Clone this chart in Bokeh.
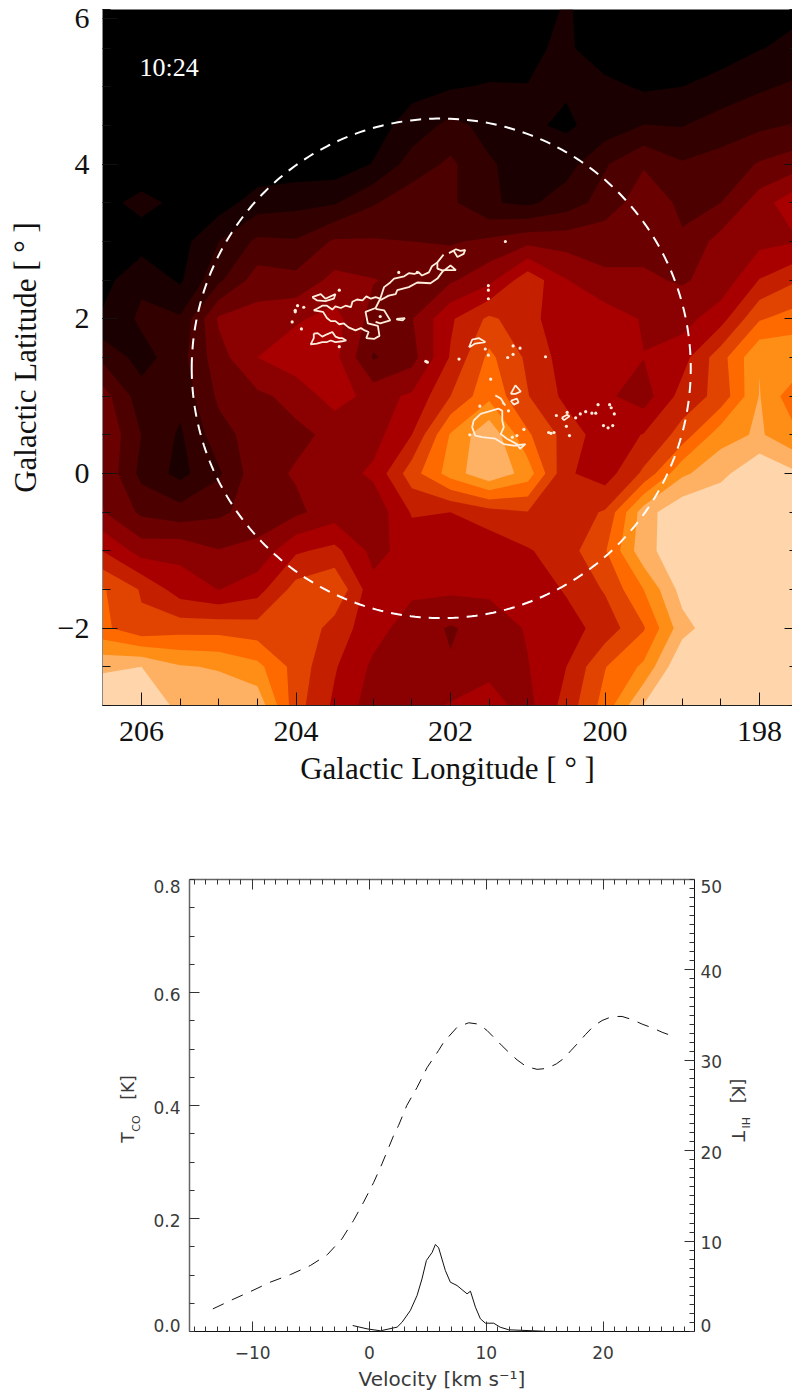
import numpy as np
from bokeh.plotting import figure
from bokeh.layouts import column
from bokeh.models import FixedTicker, Label, LinearAxis, Range1d
from bokeh.embed import file_html
from bokeh.resources import INLINE

# ---------- upper panel: HI brightness, one list per longitude, latitude 6 -> -3 ----------
lat = [6 - 0.5 * i for i in range(19)]
lon = [206.5 - 0.5 * i for i in range(19)]
l206_5 = [.2,.2,.2,.2,.2,.7,.3,.65,1.15,2.75,4.45,4.9,4.85,5.05,6.97,9.1,9.25,11.8,13]
l206_0 = [.3,.3,.3,.3,.3,1.3,.5,1.8,2.2,1.6,2.42,2.98,2.7,3.8,5.57,7.9,8.2,12.0,12.43]
l205_5 = [.2,.2,.2,.2,.2,.75,.6,.85,2.13,2.6,2.3,1.85,1.7,3.4,5.7,6.5,8.56,11.1,11.85]
l205_0 = [.2,.2,.2,.2,.2,.5,2.0,2.8,5.15,4.6,4.2,3.6,2.85,3.8,5.05,5.98,8.6,10.9,11.8]
l204_5 = [.2,.2,.2,.2,.25,1.5,3.2,4.5,5.4,6.0,4.8,4.5,4.65,4.45,5.28,6.6,8.4,10.3,11.7]
l204_0 = [.2,.2,.2,.2,.4,1.7,3.1,4.3,5.85,6.7,5.3,4.8,5.09,4.8,6.85,8.4,8.9,8.6,8.4]
l203_5 = [.2,.2,.2,.2,.4,1.9,4.15,5.3,6.4,6.3,6.5,5.2,5.5,5.5,7.3,8.9,7.55,7.1,6.8]
l203_0 = [.2,.2,.2,.6,1.05,2.9,4.1,5.05,4.6,3.9,5.6,5.6,6.2,5.3,5.7,6.3,6.4,5.8,5.5]
l202_5 = [.2,.2,.7,1.4,2.45,3.6,4.0,4.7,4.95,4.6,6.17,7.0,8.55,7.1,6.4,6.2,5.5,5.3,5.6]
l202_0 = [.3,.3,.9,2.3,3.2,3.2,3.9,4.85,6.85,7.1,8.0,10.1,10.45,7.0,6.5,6.2,4.9,5.08,6.1]
l201_5 = [.3,.3,1.1,1.7,2.1,2.1,4.2,5.7,8.2,9.25,9.75,11.8,11.85,7.6,6.3,6.2,5.4,5.8,6.3]
l201_0 = [.5,.8,1.02,1.15,1.6,1.8,4.7,7.7,7.4,7.8,8.05,9.15,10.55,7.95,6.9,6.4,6.1,5.95,5.7]
l200_5 = [1.1,1.2,1.1,.85,1.6,2.5,4.6,6.05,6.2,6.5,6.72,7.6,7.15,7.5,7.55,7.1,6.6,7.0,7.4]
l200_0 = [.5,.3,1.3,1.4,2.9,3.4,4.7,5.15,6.6,6.4,6.2,6.4,6.5,8.1,8.9,8.1,7.4,8.95,9.4]
l199_5 = [.3,.5,.85,2.03,3.9,4.6,4.7,5.15,5.9,6.02,5.5,7.05,8.2,11.55,11.7,10.0,8.9,10.2,12.05]
l199_0 = [.3,.6,1.0,1.95,3.1,3.8,4.12,4.9,5.6,6.6,7.4,8.4,10.8,12.8,12.6,12.4,11.6,13,14]
l198_5 = [.4,.75,1.2,2.6,3.3,4.0,5.4,5.35,6.6,8.6,8.34,10.6,11.7,13,14,14,12.8,14,14]
l198_0 = [.6,.95,1.85,2.8,4.1,5.5,5.7,7.05,8.9,10.95,11.05,11.15,12.9,14,14,14,14,14,14]
l197_5 = [.8,1.3,2.2,3.1,4.6,6.85,5.97,7.95,9.5,10.8,9.1,10.05,12.1,14,14,14,14,14,14]

band_colors = ["#1a0000","#330000","#4d0000","#6b0000","#8b0000","#a80000","#c42000",
               "#e04400","#ff6a00","#ff8e17","#ffb163","#ffd5ab"]

# CO outlines (longitude, latitude)
co_lon = [
 [202.09,202.17,202.24,202.28,202.37,202.41,202.47,202.54,202.60,202.73,202.78,202.86,202.91,202.97,203.03,203.09,203.14,203.21,203.27,203.29,203.36,203.42,203.49,203.53,203.60,203.66,203.73,203.77,203.65,203.60,203.55,203.49,203.44,203.38,203.32,203.23,203.16,203.11,203.06,203.09,202.99,202.92,202.94,203.07,203.10,202.97,202.91],
 [202.91,202.80,202.71,202.69,202.54,202.43,202.26,202.17,202.09,201.93,202.00,202.09,202.17,202.17],
 [202.97,202.86,202.78,202.91,202.97],
 [202.70,202.59,202.62,202.69,202.70],
 [202.02,201.96,201.91,201.83,201.81,201.87,201.93,202.02],
 [203.77,203.72,203.66,203.60,203.53,203.49,203.44,203.40,203.35,203.40,203.49,203.55,203.60,203.66,203.73,203.81,203.77,203.77],
 [203.79,203.68,203.62,203.49,203.51,203.62,203.73,203.79],
 [201.76,201.72,201.63,201.55,201.68,201.76],
 [201.22,201.16,201.09,201.16,201.22],
 [201.22,201.14,201.12,201.18,201.22],
 [201.42,201.35,201.29,201.33],
 [201.70,201.61,201.51,201.38,201.33,201.33,201.31,201.35,201.27,201.14,201.10,201.03,201.18,201.31,201.42,201.59,201.68,201.72,201.70],
 [200.56,200.49,200.46,200.53,200.56],
]
co_lat = [
 [2.83,2.73,2.68,2.60,2.56,2.60,2.58,2.59,2.55,2.52,2.47,2.41,2.26,2.28,2.26,2.29,2.24,2.25,2.22,2.15,2.17,2.14,2.16,2.12,2.17,2.17,2.13,2.11,2.09,2.01,1.97,1.97,1.93,1.94,1.89,1.85,1.88,1.85,1.83,1.75,1.74,1.78,1.91,1.94,2.09,2.14,2.26],
 [2.24,2.30,2.32,2.37,2.41,2.47,2.46,2.52,2.63,2.63,2.69,2.62,2.65,2.73],
 [2.13,2.11,1.98,1.94,1.96],
 [2.00,2.01,1.98,1.99,2.00],
 [2.85,2.88,2.80,2.84,2.89,2.88,2.90,2.85],
 [1.81,1.815,1.77,1.80,1.83,1.77,1.75,1.75,1.72,1.71,1.70,1.72,1.70,1.70,1.68,1.67,1.75,1.81],
 [2.28,2.32,2.26,2.32,2.26,2.23,2.24,2.28],
 [1.63,1.73,1.75,1.70,1.68,1.63],
 [1.03,1.14,1.06,1.03,1.03],
 [0.94,0.97,0.92,0.89,0.94],
 [1.01,0.97,0.88,0.92],
 [0.685,0.77,0.80,0.84,0.81,0.68,0.60,0.51,0.45,0.38,0.32,0.38,0.36,0.38,0.45,0.47,0.49,0.60,0.685],
 [0.72,0.76,0.74,0.69,0.72],
]
dot_lon = [204.01,203.98,204.05,203.93,203.90,203.44,203.44,202.67,202.43,202.91,204.01,
 201.55,201.51,201.19,201.10,201.19,201.26,201.89,202.30,201.48,200.77,201.62,201.75,201.05,201.14,
 201.20,201.25,200.70,200.66,200.73,200.63,200.49,200.38,200.32,200.25,200.17,200.12,200.09,199.94,
 199.92,199.88,200.02,199.96,200.50,200.46,199.90,201.29,201.51,201.51,201.51,202.32]
dot_lat = [2.11,2.17,1.96,1.87,2.15,2.37,1.64,2.60,2.60,2.03,2.09,
 1.61,1.53,1.65,1.62,1.54,1.50,1.48,1.44,1.22,1.51,0.87,0.50,0.57,0.49,
 0.47,0.81,0.52,0.53,0.53,0.75,0.79,0.72,0.77,0.80,0.78,0.78,0.89,0.89,
 0.85,0.77,0.62,0.59,0.61,0.49,0.62,3.00,2.43,2.37,2.26,1.45]
beam_lon, beam_lat, beam_radius = 202.12, 1.36, 3.23

# ---------- lower panel: spectra ----------
hi_v = [-13.4,-11.6,-10.05,-8.5,-6.75,-5.05,-3.6,-2.35,-1.35,-0.5,0.37,1.08,2.08,2.5,3.2,4.08,4.94,5.93,6.36,
        7.5,8.5,9.36,10.07,10.64,11.36,12.0,12.64,13.44,14.36,15.2,16.0,16.64,17.27,17.92,18.5,19.2,19.92,20.78,21.63,22.5,23.35,24.2,25.06,25.8]
hi_t = [2.5,3.6,4.5,5.45,6.3,7.3,8.5,10.25,12.3,14.3,16.5,18.55,21.7,22.8,25.0,27.0,29.2,31.1,32.0,
        33.65,34.15,34.0,33.3,32.55,31.6,30.8,30.05,29.3,29.0,29.1,29.6,30.2,31.1,32.0,32.85,33.8,34.4,34.85,34.85,34.5,34.0,33.6,33.1,32.75]
co_v = [-1.43,-0.2,0.94,2.37,2.8,3.5,4.08,4.5,4.88,5.37,5.65,5.93,6.5,6.93,7.5,8.36,8.65,9.08,9.5,9.93,10.64,11.2,11.93,14.92]
co_t = [.0106,.0047,.0012,.0077,.0165,.037,.0637,.093,.1257,.14,.154,.148,.108,.0873,.0814,.0667,.0713,.043,.0225,.0147,.0147,.0076,.003,.0005]

SERIF = "Liberation Serif"
SANS = "DejaVu Sans"
INK = "#3a3a3a"
DARK = "#111111"

def text_axis(p, side, ticks, texts, size, standoff, vertical=False, y_range_name="default"):
    """An axis that shows only texts at given positions; it stacks outward from the frame."""
    ax = LinearAxis(y_range_name=y_range_name, ticker=FixedTicker(ticks=ticks, minor_ticks=[]),
                    major_label_overrides=dict(zip(ticks, texts)), axis_line_color=None,
                    major_tick_line_color=None, minor_tick_line_color=None,
                    major_tick_in=0, major_tick_out=0, minor_tick_in=0, minor_tick_out=0,
                    major_label_standoff=standoff, major_label_text_font=SANS,
                    major_label_text_font_size=size, major_label_text_color=INK)
    if vertical:
        ax.major_label_orientation = "vertical"
    p.add_layout(ax, side)

def tick_axis(p, side, loc, ticks, y_range_name="default"):
    """Long inward ticks only, fixed at the edge of the frame."""
    ax = LinearAxis(fixed_location=loc, y_range_name=y_range_name,
                    ticker=FixedTicker(ticks=ticks, minor_ticks=[]), axis_line_color=None,
                    major_label_text_color=None, major_tick_in=10, major_tick_out=0,
                    major_tick_line_color="#333333", minor_tick_line_color=None)
    p.add_layout(ax, side)

# ---------- upper figure ----------
z = np.array([l206_5,l206_0,l205_5,l205_0,l204_5,l204_0,l203_5,l203_0,l202_5,l202_0,l201_5,
              l201_0,l200_5,l200_0,l199_5,l199_0,l198_5,l198_0,l197_5]).T
z_up = z[::-1, ::-1]
x_up = np.array(lon)[::-1]
y_up = np.array(lat)[::-1]

p1 = figure(width=792, height=800, x_range=Range1d(206.505, 197.573), y_range=Range1d(-3.0, 6.0),
            output_backend="svg", toolbar_location=None, min_border_left=102, min_border_right=0,
            min_border_top=9, min_border_bottom=95, border_fill_color="white", outline_line_color=None)
p1.frame_width = 690
p1.frame_height = 696
p1.frame_align = False
p1.background_fill_color = "#000000"
p1.grid.visible = False

for k, c in enumerate(band_colors):
    p1.contour(x_up, y_up, z_up, levels=[k + 1, 99], fill_color=c, line_color=None)

th = np.linspace(0, 2 * np.pi, 361)
p1.line(beam_lon + beam_radius * np.cos(th), beam_lat + beam_radius * np.sin(th),
        line_color="white", line_width=2, line_dash="11 8")
p1.multi_line(co_lon, co_lat, line_color="#ffeedd", line_width=1.8)
p1.scatter(dot_lon, dot_lat, size=3.2, color="#ffeedd", line_color=None)

minor_lon = [206.5 - 0.5 * i for i in range(19)]
minor_lat = [-3 + 0.5 * i for i in range(19)]
xa = p1.xaxis[0]
xa.ticker = FixedTicker(ticks=[206, 204, 202, 200, 198], minor_ticks=minor_lon)
xa.axis_label = "Galactic Longitude [ ° ]"
ya = p1.yaxis[0]
ya.ticker = FixedTicker(ticks=[-2, 0, 2, 4, 5.88], minor_ticks=minor_lat)
ya.major_label_overrides = {5.88: "6"}
ya.axis_label = "Galactic Latitude [ ° ]"
for a, ml, mn in ((xa, 13, 7), (ya, 15, 8)):
    a.axis_label_text_font = SERIF
    a.axis_label_text_font_size = "31px"
    a.axis_label_text_font_style = "normal"
    a.axis_label_text_color = DARK
    a.major_label_text_font = SERIF
    a.major_label_text_font_size = "30px"
    a.major_label_text_color = DARK
    a.major_tick_in = ml
    a.major_tick_out = 0
    a.minor_tick_in = mn
    a.minor_tick_out = 0
    a.major_tick_line_color = DARK
    a.minor_tick_line_color = DARK
xa.axis_line_color = "#222222"
ya.axis_line_color = "#888888"
xa.major_label_standoff = 16
xa.axis_label_standoff = 7
ya.major_label_standoff = 13
ya.axis_label_standoff = 12

ra = LinearAxis(ticker=FixedTicker(ticks=[-2, 0, 2, 4], minor_ticks=minor_lat),
                major_label_text_color=None, axis_line_color=None,
                major_tick_in=8, major_tick_out=0, minor_tick_in=3, minor_tick_out=0,
                major_tick_line_color=DARK, minor_tick_line_color=DARK, major_label_standoff=0)
p1.add_layout(ra, "right")
p1.add_layout(Label(x=37, y=624, x_units="screen", y_units="screen", text="10:24", text_align="left",
                    text_font=SERIF, text_font_size="26px", text_color="white"))

# ---------- lower figure ----------
V_L, V_R = -15.4, 27.83
p2 = figure(width=792, height=595, x_range=Range1d(V_L, V_R), y_range=Range1d(0, 0.8),
            output_backend="svg", toolbar_location=None, min_border_left=189, min_border_right=98,
            min_border_top=79, min_border_bottom=64, outline_line_color=None)
p2.frame_width = 505
p2.frame_height = 452
p2.frame_align = False
p2.grid.visible = False
p2.extra_y_ranges = {"hi": Range1d(0, 50)}

p2.line(co_v, co_t, line_color=DARK, line_width=1)
p2.line(hi_v, hi_t, y_range_name="hi", line_color=DARK, line_width=1, line_dash="12 9")

v_major = [-10, 0, 10, 20]
v_minor = list(range(-15, 28))
co_major = [0.2, 0.4, 0.6]
co_minor = [0.05 * i for i in range(17)]
hi_major = [10, 20, 30, 40]
hi_minor = list(range(51))

# tick labels sit where the reference has them, a little off their ticks
co_label_at = [0.7876, 0.5965, 0.3965, 0.1965, 0.0106]
co_labels = ["0.8", "0.6", "0.4", "0.2", "0.0"]
hi_label_at = [49.2, 39.8, 29.85, 19.8, 9.85, 0.66]
hi_labels = ["50", "40", "30", "20", "10", "0"]

xb = p2.xaxis[0]
xb.ticker = FixedTicker(ticks=v_major, minor_ticks=v_minor)
xb.axis_label = "Velocity [km s⁻¹]"
yb = p2.yaxis[0]
yb.ticker = FixedTicker(ticks=co_label_at, minor_ticks=co_minor)
yb.major_label_overrides = dict(zip(co_label_at, co_labels))
rb = LinearAxis(y_range_name="hi", ticker=FixedTicker(ticks=hi_label_at, minor_ticks=hi_minor),
                major_label_overrides=dict(zip(hi_label_at, hi_labels)))
p2.add_layout(rb, "right")
tb = LinearAxis(ticker=FixedTicker(ticks=v_major, minor_ticks=v_minor))
p2.add_layout(tb, "above")

for a, col in ((xb, DARK), (yb, "#666666"), (rb, DARK), (tb, "#666666")):
    a.axis_label_text_font = SANS
    a.axis_label_text_font_size = "20px"
    a.axis_label_text_font_style = "normal"
    a.axis_label_text_color = INK
    a.major_label_text_font = SANS
    a.major_label_text_font_size = "17px"
    a.major_label_text_color = INK
    a.major_tick_in = 10
    a.major_tick_out = 0
    a.minor_tick_in = 5
    a.minor_tick_out = 0
    a.major_tick_line_color = "#333333"
    a.minor_tick_line_color = "#333333"
    a.axis_line_color = col
    a.axis_line_width = 1.5 if col == "#666666" else 1
for a in (yb, rb):
    a.major_tick_line_color = None
    a.major_tick_in = 0
tb.major_label_text_color = None
xb.major_label_standoff = 14
xb.axis_label_standoff = 5
yb.major_label_standoff = 9
rb.major_label_standoff = 6
tb.major_label_standoff = 0

tick_axis(p2, "left", V_L, co_major)
tick_axis(p2, "right", V_R, hi_major, y_range_name="hi")
text_axis(p2, "left", [0.368], ["CO"], "11px", 7, vertical=True)
text_axis(p2, "left", [0.3434, 0.4319], ["T", "[K]"], "17px", -11, vertical=True)
text_axis(p2, "right", [21.6, 26.6], ["T", "[K]"], "17px", 2, vertical=True, y_range_name="hi")
text_axis(p2, "right", [23.1], ["HI"], "11px", -12, vertical=True, y_range_name="hi")

page = column(p1, p2, spacing=0)
open("out.html", "w").write(file_html(page, INLINE))
